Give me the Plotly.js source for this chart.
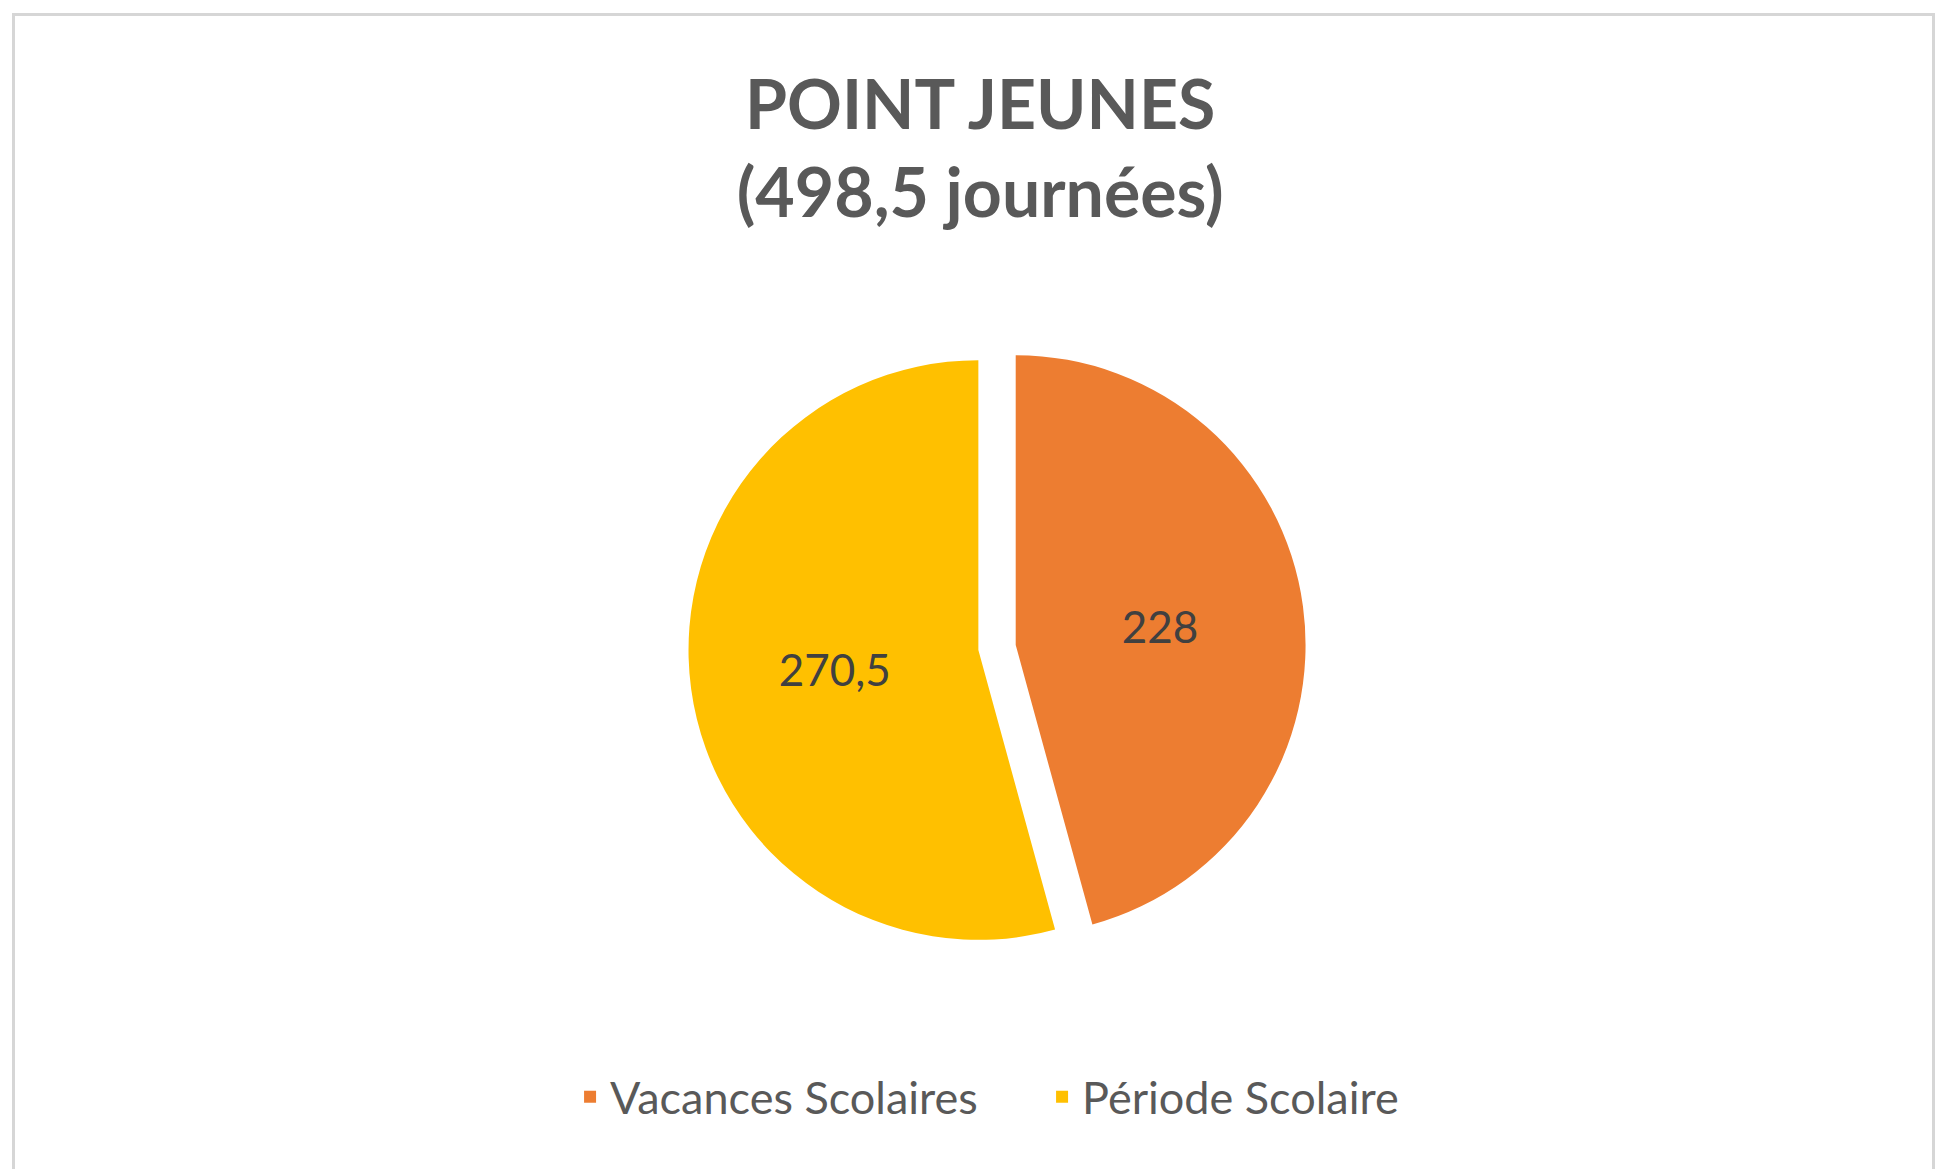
<!DOCTYPE html>
<html>
<head>
<meta charset="utf-8">
<script src="https://cdn.plot.ly/plotly-3.0.1.min.js"></script>
<style>
  html, body { margin: 0; padding: 0; background: #ffffff; }
  #chart { width: 1939px; height: 1169px; }
</style>
</head>
<body>
<div id="chart"></div>
<script>
const categories = ["Vacances Scolaires", "Période Scolaire"];
const values = [228, 270.5];
const colors = ["#ED7D31", "#FFC000"];
const titleLines = ["POINT JEUNES", "(498,5 journées)"];

const W = 1939, H = 1169;

const trace = {
  type: "pie",
  labels: categories,
  values: values,
  sort: false,
  direction: "clockwise",
  rotation: 0,
  pull: [0.065, 0.065],
  marker: { colors: colors, line: { width: 0 } },
  textinfo: "value",
  textposition: "inside",
  insidetextorientation: "horizontal",
  textfont: { family: "Lato, 'Open Sans', sans-serif", size: 44, color: "#404040" },
  hoverinfo: "label+value",
  domain: { x: [0.3550, 0.6734], y: [0.1819, 0.7103] }
};

const layout = {
  width: W,
  height: H,
  margin: { l: 0, r: 0, t: 0, b: 0 },
  paper_bgcolor: "#ffffff",
  separators: ", ",
  showlegend: true,
  title: {
    text: titleLines.join("<br>"),
    x: 0.5055,
    xanchor: "center",
    y: 0.8898,
    yanchor: "middle",
    font: { family: "Lato, 'Open Sans', sans-serif", size: 68, color: "#595959", weight: "bold" }
  },
  legend: {
    orientation: "h",
    x: 0.294,
    xanchor: "left",
    y: 0.0616,
    yanchor: "middle",
    font: { family: "Lato, 'Open Sans', sans-serif", size: 45, color: "#595959" },
    entrywidthmode: "pixels",
    entrywidth: 427,
    traceorder: "normal",
    bgcolor: "rgba(0,0,0,0)"
  },
  shapes: [{
    type: "rect",
    xref: "paper", yref: "paper",
    x0: 13.5 / W, x1: 1933.5 / W,
    y0: -0.05, y1: 1 - 14.5 / H,
    line: { color: "#d6d6d6", width: 3 },
    fillcolor: "rgba(0,0,0,0)",
    layer: "below"
  }]
};

Plotly.newPlot("chart", [trace], layout, { displayModeBar: false, staticPlot: true });
</script>
</body>
</html>
